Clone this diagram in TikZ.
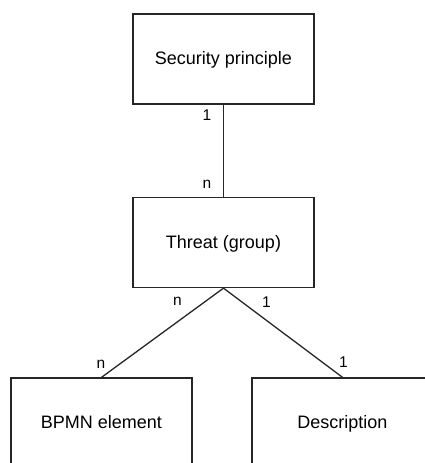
\documentclass[tikz,border=0pt]{standalone}
\usepackage{fontspec}
\setmainfont{Liberation Sans}
\begin{document}
\begin{tikzpicture}[x=1pt,y=-1pt,
  entity/.style={draw=black!85, line width=1.3pt, rectangle,
    minimum width=181pt, minimum height=90pt, inner sep=0pt,
    text height=14.5pt, text depth=3pt,
    font=\fontsize{18}{21}\selectfont},
  link/.style={draw=black!85, line width=1.3pt},
  card/.style={inner sep=0pt, font=\fontsize{15.5}{18}\selectfont}]
\useasboundingbox (0,0) rectangle (425,463);
\clip (0,0) rectangle (425,463);
\fill[white] (0,0) rectangle (425,463);

% entities
\node[entity] (sec) at (223.5,59) {Security principle};
\node[entity] (thr) at (223.5,242.5) {Threat (group)};
\node[entity] (bpmn) at (101.5,423) {BPMN element};
\node[entity] (desc) at (342.5,423) {Description};

% relationships
\draw[link] (sec.south) -- (thr.north);
\draw[link] (thr.south) -- (bpmn.north);
\draw[link] (thr.south) -- (desc.north);

% cardinalities
\node[card] (c1) at (207,115) {1};
\node[card] (c2) at (207,184) {n};
\node[card] (c3) at (177.5,301) {n};
\node[card] (c4) at (266.5,302.5) {1};
\node[card] (c5) at (101,364) {n};
\node[card] (c6) at (343.5,362.5) {1};
\end{tikzpicture}
\end{document}
